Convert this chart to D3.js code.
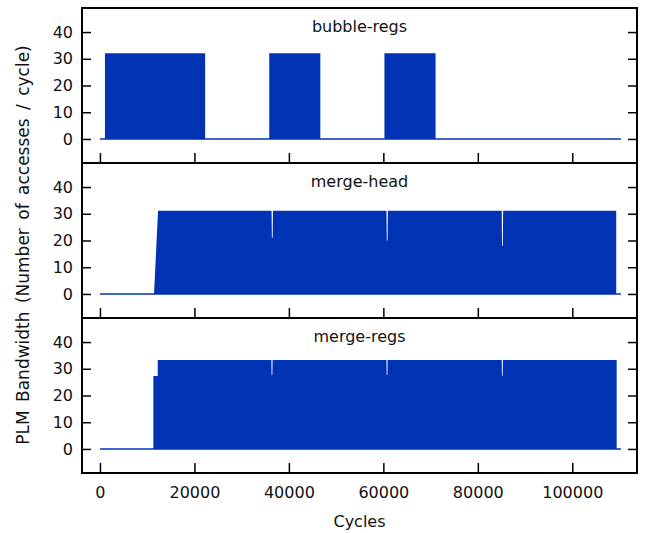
<!DOCTYPE html>
<html>
<head>
<meta charset="utf-8">
<script src="https://cdn.jsdelivr.net/npm/d3@7/dist/d3.min.js"></script>
<style>
  html, body { margin: 0; padding: 0; background: #fff; }
  svg { display: block; font-family: "DejaVu Sans", sans-serif; }
</style>
</head>
<body>
<svg id="chart" width="646" height="533"></svg>
<script>
// Panel titles, top to bottom
const panelNames = ["bubble-regs", "merge-head", "merge-regs"];

// Shared axis ticks
const xTicks = [0, 20000, 40000, 60000, 80000, 100000];
const yTicks = [0, 10, 20, 30, 40];

// Cycle range over which each trace was recorded (idle line at 0)
const traceSpan = [0, 110300];

// Peak envelope of the access bursts: [cycle, accesses per cycle]
const bubbleRegsPeaks = [
  [1060, 0], [1060, 32.1], [22270, 32.1], [22270, 0],
  [35840, 0], [35840, 32.1], [46660, 32.1], [46660, 0],
  [60230, 0], [60230, 32.1], [71050, 32.1], [71050, 0]
];
const mergeHeadPeaks = [
  [11450, 0], [12300, 31.1],
  [36330, 31.1], [36400, 21.0], [36560, 21.0], [36630, 31.1],
  [60660, 31.1], [60730, 20.0], [60890, 20.0], [60960, 31.1],
  [85060, 31.1], [85130, 18.0], [85290, 18.0], [85360, 31.1],
  [109300, 31.1], [109300, 0]
];
const mergeRegsPeaks = [
  [11300, 0], [11300, 27.3], [12230, 27.3], [12230, 33.3],
  [36300, 33.3], [36340, 27.7], [36500, 27.7], [36540, 33.3],
  [60660, 33.3], [60700, 27.7], [60860, 27.7], [60900, 33.3],
  [85060, 33.3], [85100, 27.4], [85260, 27.4], [85300, 33.3],
  [109400, 33.3], [109400, 0]
];
const panelPeaks = [bubbleRegsPeaks, mergeHeadPeaks, mergeRegsPeaks];

const blue = "#0033b4";
const svg = d3.select("#chart");

const left = 82, right = 637, top0 = 8, panelH = 155;
const x = d3.scaleLinear().domain([-3800, 113700]).range([left, right]);

panelNames.forEach((name, i) => {
  const top = top0 + i * panelH;
  const y = d3.scaleLinear().domain([-9, 49]).range([top + panelH, top]);
  const g = svg.append("g");

  // bursts
  const area = d3.area()
    .x(d => x(d[0]))
    .y0(y(0))
    .y1(d => y(d[1]));
  g.append("path")
    .datum(panelPeaks[i])
    .attr("d", area)
    .attr("fill", blue);

  // idle line
  g.append("line")
    .attr("x1", x(traceSpan[0])).attr("x2", x(traceSpan[1]))
    .attr("y1", y(0)).attr("y2", y(0))
    .attr("stroke", blue).attr("stroke-width", 1.5);

  // y ticks on both sides, pointing inward
  const yLeft = d3.axisLeft(y).tickValues(yTicks).tickSize(-9).tickPadding(18);
  const yRight = d3.axisRight(y).tickValues(yTicks).tickSize(-9).tickFormat("");
  const gl = g.append("g").attr("transform", `translate(${left},0)`).call(yLeft);
  const gr = g.append("g").attr("transform", `translate(${right},0)`).call(yRight);

  // x ticks at panel bottom, pointing inward
  const xAx = d3.axisBottom(x).tickValues(xTicks).tickSize(-10).tickPadding(14)
    .tickFormat(i === panelNames.length - 1 ? d3.format("d") : "");
  const gx = g.append("g").attr("transform", `translate(0,${top + panelH})`).call(xAx);

  [gl, gr, gx].forEach(a => {
    a.select(".domain").remove();
    a.selectAll(".tick line").attr("stroke", "#000").attr("stroke-width", 1.5);
    a.selectAll(".tick text").attr("fill", "#111").style("font-size", "16px")
      .style("font-family", "'DejaVu Sans', sans-serif");
  });
  gl.selectAll(".tick text").attr("x", -9);

  // frame
  g.append("rect")
    .attr("x", left).attr("y", top)
    .attr("width", right - left).attr("height", panelH)
    .attr("fill", "none").attr("stroke", "#000").attr("stroke-width", 2);

  // title
  g.append("text")
    .attr("x", (left + right) / 2).attr("y", top + 24)
    .attr("text-anchor", "middle")
    .attr("fill", "#111").style("font-size", "16px")
    .text(name);
});

// axis titles
svg.append("text")
  .attr("x", (left + right) / 2).attr("y", 527)
  .attr("text-anchor", "middle").attr("fill", "#111").style("font-size", "16px")
  .text("Cycles");

svg.append("text")
  .attr("transform", `translate(29,245) rotate(-90)`)
  .attr("text-anchor", "middle").attr("fill", "#111")
  .style("font-size", "17px").style("word-spacing", "3px")
  .text("PLM Bandwidth (Number of accesses / cycle)");
</script>
</body>
</html>
